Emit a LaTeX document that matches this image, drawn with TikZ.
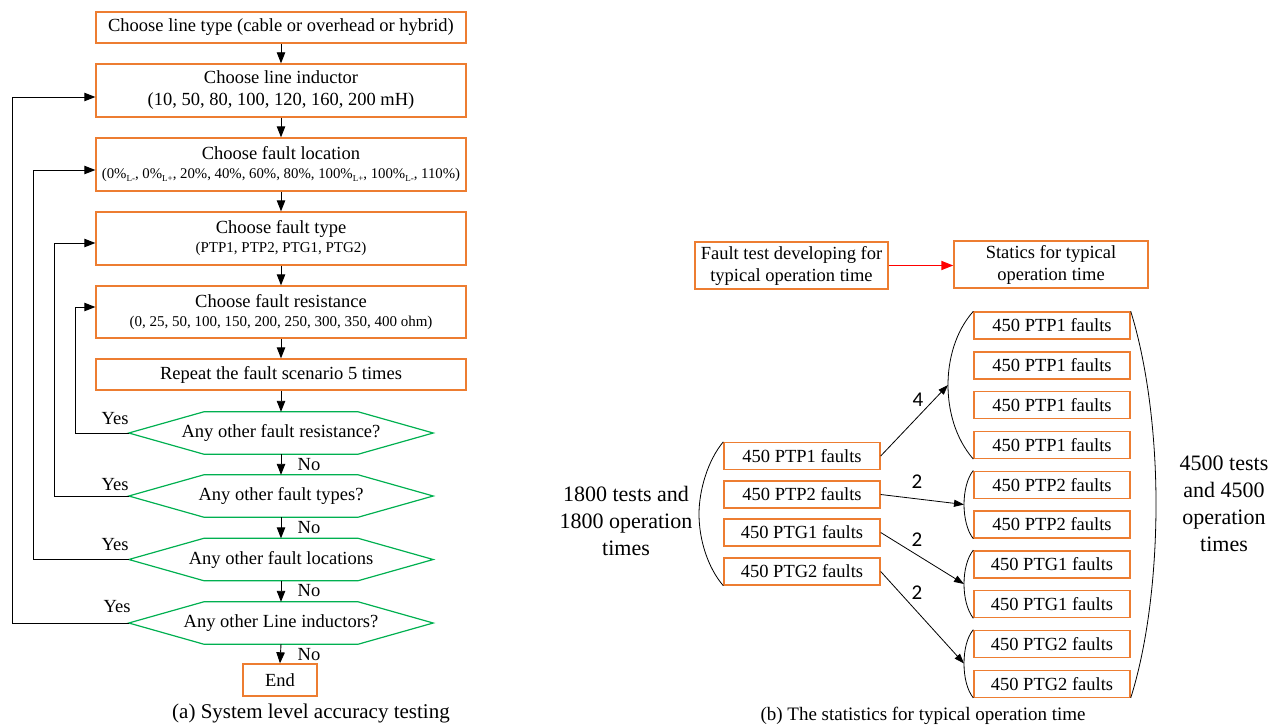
\documentclass[tikz,border=0pt]{standalone}
\usepackage{fontspec}
\setmainfont{Liberation Serif}
\newfontfamily\numfont{Carlito}
\usetikzlibrary{arrows.meta,calc}
\definecolor{boxorange}{RGB}{237,125,49}
\definecolor{hexgreen}{RGB}{0,176,80}
\newcommand{\hexpath}[1]{\draw[hexline] (#1.west) -- ([xshift=75pt]#1.north west) -- ([xshift=-75pt]#1.north east) -- (#1.east) -- ([xshift=-75pt]#1.south east) -- ([xshift=75pt]#1.south west) -- cycle;}
\newcommand{\sbs}[1]{\raisebox{-2.5pt}{\fontsize{9}{10}\selectfont #1}}
\begin{document}
\begin{tikzpicture}[x=1pt,y=-1pt,
  obox/.style={draw=boxorange, line width=1.4pt, align=center, inner sep=1pt, font=\fontsize{18.5}{22}\selectfont},
  flowbox/.style={obox, minimum width=370pt},
  smallbox/.style={obox, minimum width=156pt, minimum height=27pt},
  hexnode/.style={minimum width=304pt, minimum height=42pt, inner sep=0pt, font=\fontsize{18.5}{22}\selectfont},
  hexline/.style={draw=hexgreen, line width=1.2pt},
  arr/.style={-{Triangle[length=11pt,width=8.5pt]}, line width=0.9pt},
  thinarr/.style={-{Triangle[length=10pt,width=7pt]}, line width=0.8pt},
  redarr/.style={-{Triangle[length=12pt,width=9pt]}, red, line width=1.8pt},
  brace/.style={line width=0.8pt},
  lbl/.style={font=\fontsize{18.5}{22}\selectfont, inner sep=0pt},
  numlbl/.style={font=\numfont\fontsize{21}{24}\selectfont, inner sep=0pt},
  bigtxt/.style={font=\fontsize{22}{27}\selectfont, align=center, inner sep=0pt}
]
\useasboundingbox (0,0) rectangle (1273,725);

% ---------- (a) flowchart ----------
\node[flowbox, minimum height=31pt] (b1) at (281,27.5) {Choose line type (cable or overhead or hybrid)};
\node[flowbox, minimum height=53pt] (b2) at (281,90.5) {Choose line inductor\\(10, 50, 80, 100, 120, 160, 200 mH)};
\node[flowbox, minimum height=53pt, inner xsep=0pt] (b3) at (281,164.5) {Choose fault location\\[-3pt]{\fontsize{14.8}{18}\selectfont (0\%\sbs{L-}, 0\%\sbs{L+}, 20\%, 40\%, 60\%, 80\%, 100\%\sbs{L+}, 100\%\sbs{L-}, 110\%)}};
\node[flowbox, minimum height=53pt] (b4) at (281,238.5) {Choose fault type\\[-3pt]{\fontsize{15}{18}\selectfont (PTP1, PTP2, PTG1, PTG2)}};
\node[flowbox, minimum height=52pt] (b5) at (281,312) {Choose fault resistance\\[-3pt]{\fontsize{15}{18}\selectfont (0, 25, 50, 100, 150, 200, 250, 300, 350, 400 ohm)}};
\node[flowbox, minimum height=31pt] (b6) at (281,374.5) {Repeat the fault scenario 5 times};

\node[hexnode] (h1) at (281,433) {Any other fault resistance?};
\node[hexnode] (h2) at (281,496) {Any other fault types?};
\node[hexnode] (h3) at (281,559.5) {Any other fault locations};
\node[hexnode] (h4) at (281,623) {Any other Line inductors?};
\hexpath{h1}
\hexpath{h2}
\hexpath{h3}
\hexpath{h4}

\node[obox, minimum width=74pt, minimum height=32pt] (e) at (280,680) {End};

\draw[arr] (b1) -- (b2);
\draw[arr] (b2) -- (b3);
\draw[arr] (b3) -- (b4);
\draw[arr] (b4) -- (b5);
\draw[arr] (b5) -- (b6);
\draw[arr] (b6) -- (h1);
\draw[arr] (h1) -- (h2);
\draw[arr] (h2) -- (h3);
\draw[arr] (h3) -- (h4);
\draw[arr] (h4.south) -- (e.north);

\node[lbl] (n1) at (309,465) {No};
\node[lbl] (n2) at (309,528) {No};
\node[lbl] (n3) at (309,591) {No};
\node[lbl] (n4) at (309,655) {No};

\coordinate (k1) at (75,307);
\coordinate (k2) at (54,243);
\coordinate (k3) at (33,170);
\coordinate (k4) at (12,97);
\draw[arr] (h1.west) -- (h1.west -| k1) -- (k1) -- (k1 -| b5.west);
\draw[arr] (h2.west) -- (h2.west -| k2) -- (k2) -- (k2 -| b4.west);
\draw[arr] (h3.west) -- (h3.west -| k3) -- (k3) -- (k3 -| b3.west);
\draw[arr] (h4.west) -- (h4.west -| k4) -- (k4) -- (k4 -| b2.west);

\node[lbl] (y1) at (115,419) {Yes};
\node[lbl] (y2) at (115,485) {Yes};
\node[lbl] (y3) at (115,545) {Yes};
\node[lbl] (y4) at (117,607) {Yes};

\node[font=\fontsize{21}{24}\selectfont, inner sep=0pt] (capa) at (311,713) {(a) System level accuracy testing};

% ---------- (b) statistics ----------
\node[obox, minimum width=193pt, minimum height=47pt] (A) at (791.5,265.5) {Fault test developing for\\typical operation time};
\node[obox, minimum width=194pt, minimum height=47pt] (B) at (1051,264.5) {Statics for typical\\operation time};
\draw[redarr] (A.east) -- (A.east -| B.west);

\node[smallbox] (l1) at (802,456) {450 PTP1 faults};
\node[smallbox] (l2) at (802,494.5) {450 PTP2 faults};
\node[smallbox] (l3) at (802,532.5) {450 PTG1 faults};
\node[smallbox] (l4) at (802,571.5) {450 PTG2 faults};

\node[smallbox] (r1) at (1052,325.5) {450 PTP1 faults};
\node[smallbox] (r2) at (1052,365.3) {450 PTP1 faults};
\node[smallbox] (r3) at (1052,405.1) {450 PTP1 faults};
\node[smallbox] (r4) at (1052,444.9) {450 PTP1 faults};
\node[smallbox] (r5) at (1052,484.7) {450 PTP2 faults};
\node[smallbox] (r6) at (1052,524.5) {450 PTP2 faults};
\node[smallbox] (r7) at (1052,564.3) {450 PTG1 faults};
\node[smallbox] (r8) at (1052,604.1) {450 PTG1 faults};
\node[smallbox] (r9) at (1052,643.9) {450 PTG2 faults};
\node[smallbox] (r10) at (1052,683.7) {450 PTG2 faults};

% braces
\coordinate (g1) at (948,385);
\coordinate (g2) at (964,504.5);
\coordinate (g3) at (964,584);
\coordinate (g4) at (964,663.5);
\draw[brace] (r1.north west) .. controls (955,332) and (948,360) .. (g1) .. controls (948,410) and (955,438) .. (r4.south west);
\draw[brace] (r5.north west) .. controls (967,478) and (964,492) .. (g2) .. controls (964,517) and (967,531) .. (r6.south west);
\draw[brace] (r7.north west) .. controls (967,558) and (964,571) .. (g3) .. controls (964,597) and (967,610) .. (r8.south west);
\draw[brace] (r9.north west) .. controls (967,637) and (964,650) .. (g4) .. controls (964,677) and (967,690) .. (r10.south west);

\coordinate (gl) at (699,514);
\draw[brace] (l1.north west) .. controls (708,460) and (699,490) .. (gl) .. controls (699,540) and (708,568) .. (l4.south west);

\coordinate (gr) at (1156,504);
\draw[brace] (r1.north east) .. controls (1146,360) and (1156,430) .. (gr) .. controls (1156,580) and (1146,650) .. (r10.south east);

\draw[thinarr] (l1.east) -- (g1);
\draw[thinarr] (l2.east) -- (g2);
\draw[thinarr] (l3.east) -- (g3);
\draw[thinarr] (l4.east) -- (g4);

\node[numlbl] (m1) at (918,400) {4};
\node[numlbl] (m2) at (917,482) {2};
\node[numlbl] (m3) at (917,540) {2};
\node[numlbl] (m4) at (917,593) {2};

\node[bigtxt] (t1) at (626,521) {1800 tests and\\1800 operation\\times};
\node[bigtxt] (t2) at (1224,504) {4500 tests\\and 4500\\operation\\times};

\node[font=\fontsize{19}{23}\selectfont, inner sep=0pt] (capb) at (923,716) {(b) The statistics for typical operation time};
\end{tikzpicture}
\end{document}
